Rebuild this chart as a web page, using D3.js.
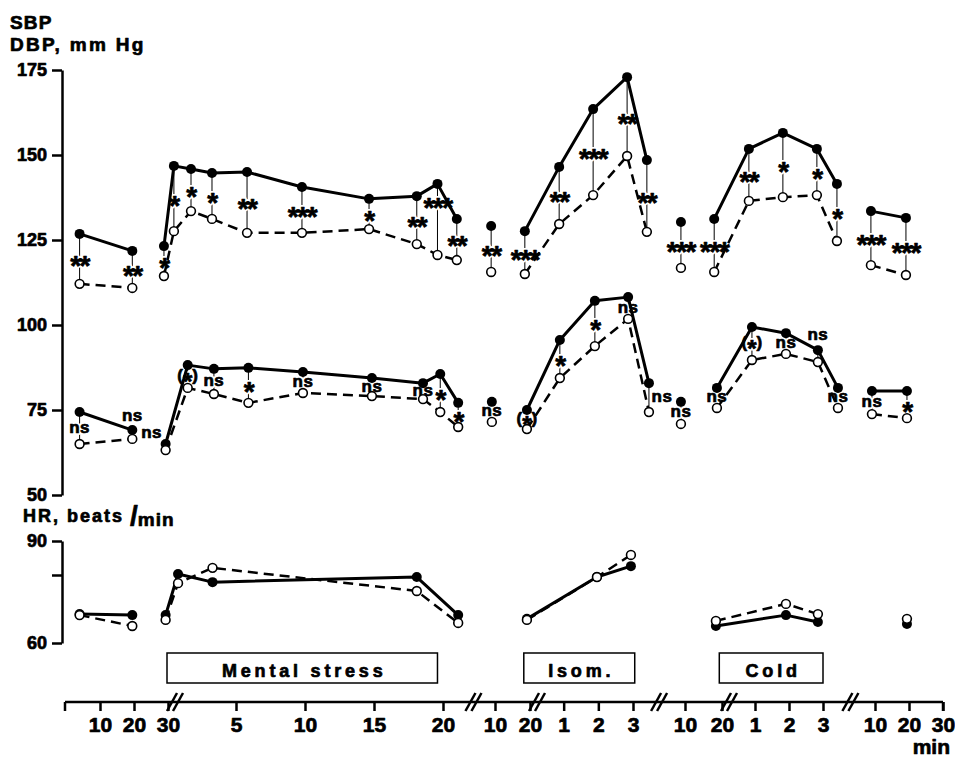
<!DOCTYPE html>
<html>
<head>
<meta charset="utf-8">
<script src="https://cdn.jsdelivr.net/npm/d3@7.9.0/dist/d3.min.js"></script>
<style>
  body { margin: 0; background: #fff; }
  svg { display: block; font-family: "Liberation Sans", Arial, sans-serif; font-weight: bold; }
  svg text { fill: #000; stroke: #000; stroke-width: 0.7px; stroke-linejoin: round; }
  svg text.halo { fill: #fff; stroke: #fff; stroke-width: 4px; }
</style>
</head>
<body>
<svg id="chart" width="955" height="757"></svg>
<script>
// segments of the time axis (each has its own minute scale)
const SEGMENTS = ['rest1', 'stress', 'rest2', 'isom', 'rest3', 'cold', 'rest4'];
const xTicks = [[10, 20, 30], [5, 10, 15, 20], [10, 20], [1, 2, 3], [10, 20], [1, 2, 3], [10, 20, 30]];
const bpTicks = [50, 75, 100, 125, 150, 175];
const hrTicks = [60, 80, 90];
const boxLabels = ['Mental stress', 'Isom.', 'Cold'];

// SBP: minutes, filled (solid) group, open (dashed) group, significance
const sbpTimes = [[4, 19.5], [-0.22, 0.5, 1.74, 3.26, 5.8, 9.78, 14.64, 18.1, 19.6, 21], [8.9], [-0.12, 0.87, 1.85, 2.83, 3.4], [8.9], [-0.2, 0.82, 1.82, 2.82, 3.41], [8.8, 19.1]];
const sbpFilled = [[126.8, 121.8], [123.2, 146.8, 145.9, 144.7, 145.0, 140.6, 137.1, 137.9, 141.5, 131.2], [129.1], [127.6, 146.5, 163.5, 172.9, 148.5], [130.3], [131.2, 151.8, 156.5, 151.8, 141.5], [133.5, 131.5]];
const sbpOpen = [[112.1, 110.9], [114.4, 127.6, 133.5, 131.2, 127.1, 127.1, 128.2, 123.8, 120.6, 119.1], [115.6], [115, 129.7, 138.2, 149.7, 127.4], [116.8], [115.6, 136.5, 137.6, 138.2, 124.7], [117.6, 114.7]];
const sbpSig = [['**', '**'], ['*', '*', '*', '*', '**', '***', '*', '**', '***', '**'], ['**'], ['***', '**', '***', '**', '**'], ['***'], ['***', '**', '*', '*', '*'], ['***', '***']];

// DBP
const dbpTimes = [[4, 19.5], [-0.1, 1.5, 3.4, 5.9, 9.85, 14.85, 18.55, 19.8, 21.1], [9.1], [-0.06, 0.89, 1.9, 2.86, 3.46], [8.9], [-0.12, 0.91, 1.91, 2.85, 3.44], [9.1, 19.4]];
const dbpFilled = [[74.4, 69.1], [65, 88.2, 87.1, 87.4, 86.2, 84.4, 82.9, 85.6, 77.1], [77.4], [75, 95.6, 107.1, 108.2, 82.9], [77.4], [81.5, 99.4, 97.6, 92.6, 81.5], [80.6, 80.6]];
const dbpOpen = [[65, 66.5], [63.2, 81.5, 79.7, 77.1, 80, 79.1, 78.2, 74.4, 70], [71.5], [69.4, 84.4, 93.8, 101.8, 74.4], [70.9], [75.6, 89.7, 91.5, 89.1, 75.6], [73.8, 72.6]];
const dbpSig = [['ns', 'ns'], ['ns', '(*)', 'ns', '*', 'ns', 'ns', 'ns', '*', '*'], ['ns'], ['(*)', '*', '*', 'ns', 'ns'], ['ns'], ['ns', '(*)', 'ns', 'ns', 'ns'], ['ns', '*']];

// HR, beats/min
const hrTimes = [[4, 19.5], [-0.1, 0.8, 3.3, 18.1, 21.1], [], [-0.06, 1.96, 2.94], [], [-0.15, 1.91, 2.85], [19.4]];
const hrFilled = [[68.5, 68.2], [68.2, 80.3, 77.9, 79.4, 68.2], [], [67.1, 79.4, 82.6], [], [65, 68.2, 66.2], [65.6]];
const hrOpen = [[68.2, 65], [66.8, 77.6, 82.1, 75.3, 65.9], [], [66.8, 79.4, 85.9], [], [66.5, 71.5, 68.5], [67.1]];

const svg = d3.select('#chart');

// one linear scale per time segment
const xs = [
  d3.scaleLinear().domain([0, 30]).range([66, 168]),
  d3.scaleLinear().domain([0, 20]).range([167, 443]),
  d3.scaleLinear().domain([10, 20]).range([495, 530]),
  d3.scaleLinear().domain([0, 3]).range([529, 633]),
  d3.scaleLinear().domain([10, 20]).range([685, 722]),
  d3.scaleLinear().domain([0, 3]).range([721, 823]),
  d3.scaleLinear().domain([10, 30]).range([875, 943])
];
const yBP = d3.scaleLinear().domain([50, 175]).range([495, 70]);
const yHR = d3.scaleLinear().domain([60, 90]).range([643, 541]);

// ---- y axes
function styleAxis(g, size) {
  g.select('.domain').attr('stroke', '#000').attr('stroke-width', 2.5);
  g.selectAll('.tick line').attr('stroke', '#000').attr('stroke-width', 2.5);
  g.selectAll('.tick text').style('font-size', size + 'px')
    .style('font-family', '"Liberation Sans", Arial, sans-serif');
}
svg.append('g').attr('transform', 'translate(62,0)')
  .call(d3.axisLeft(yBP).tickValues(bpTicks).tickSize(10).tickSizeOuter(0).tickPadding(5))
  .call(g => styleAxis(g, 18));
svg.append('g').attr('transform', 'translate(62,0)')
  .call(d3.axisLeft(yHR).tickValues(hrTicks).tickSize(10).tickSizeOuter(0).tickPadding(5)
    .tickFormat(d => d === 80 ? '' : d))
  .call(g => styleAxis(g, 18));

svg.append('text').attr('x', 10).attr('y', 29).style('font-size', '19px')
  .style('letter-spacing', '1.2px').text('SBP');
svg.append('text').attr('x', 10).attr('y', 51).style('font-size', '19px')
  .style('letter-spacing', '2.3px').text('DBP, mm Hg');
// HR label: "/min" kept as its own text, a little apart
svg.append('text').attr('x', 23).attr('y', 522).style('font-size', '18px')
  .style('letter-spacing', '2px').text('HR, beats');
const hrUnit = svg.append('text').attr('x', 130).attr('y', 525).style('font-size', '19px');
hrUnit.append('tspan').style('font-size', '28px').text('/');
hrUnit.append('tspan').attr('dy', 1).style('letter-spacing', '1px').text('min');

// ---- x axis
const axisY = 702;
svg.append('line').attr('x1', 65).attr('x2', 943).attr('y1', axisY).attr('y2', axisY)
  .attr('stroke', '#000').attr('stroke-width', 2.5);
[65, 943].forEach(x => svg.append('line').attr('x1', x).attr('x2', x)
  .attr('y1', axisY).attr('y2', axisY + 9).attr('stroke', '#000').attr('stroke-width', 2.5));
SEGMENTS.forEach((s, i) => {
  svg.append('g').attr('transform', `translate(0,${axisY})`)
    .call(d3.axisBottom(xs[i]).tickValues(xTicks[i]).tickFormat(d3.format('d'))
      .tickSize(9).tickPadding(6))
    .call(g => { g.select('.domain').remove(); styleAxis(g, 21); });
});
// axis breaks //
const breakAt = [[0, 30], [1, 21.7], [2, 20], [3, 3.55], [4, 20], [5, 3.6]];
breakAt.forEach(([i, t]) => {
  const bx = xs[i](t) - 1;
  [0, 6].forEach(o => svg.append('line')
    .attr('x1', bx + o).attr('y1', axisY + 9).attr('x2', bx + o + 10).attr('y2', axisY - 9)
    .attr('stroke', '#000').attr('stroke-width', 2.5));
});
svg.append('text').attr('x', 950).attr('y', 754).attr('text-anchor', 'end')
  .style('font-size', '21px').text('min');

// ---- stimulus boxes
const boxSpan = [[1, 0, 19.6], [3, -0.15, 3.05], [5, -0.05, 3]];
boxSpan.forEach(([i, t0, t1], k) => {
  const x0 = xs[i](t0), x1 = xs[i](t1);
  svg.append('rect').attr('x', x0).attr('y', 653).attr('width', x1 - x0).attr('height', 30)
    .attr('fill', '#fff').attr('stroke', '#000').attr('stroke-width', 1.5);
  svg.append('text').attr('x', (x0 + x1) / 2 + 2).attr('y', 677).attr('text-anchor', 'middle')
    .style('font-size', '18px').style('letter-spacing', '3.8px').text(boxLabels[k]);
});

// ---- significance labels (white halo copy first, then the text)
function addLabel(x, y, s) {
  ['halo', 'lab'].forEach(cls => {
    const t = svg.append('text').attr('class', cls).attr('x', x).attr('text-anchor', 'middle');
    if (s === 'ns') {
      t.attr('y', y + 4.5).style('font-size', '17px').style('letter-spacing', '0.5px').text(s);
    } else if (s.startsWith('(')) {
      t.attr('y', y + 4.5).style('font-size', '17px');
      t.append('tspan').text('(');
      t.append('tspan').attr('dy', 9).style('font-size', '24px').text('*');
      t.append('tspan').attr('dy', -9).text(')');
    } else {
      t.attr('y', y + 16).style('font-size', '28px').style('letter-spacing', '-1.5px').text(s);
    }
  });
}

function drawGroup(y, times, A, B, sig, nudge) {
  const line = d3.line().x(d => d[0]).y(d => d[1]);
  SEGMENTS.forEach((s, i) => {
    const pa = times[i].map((t, j) => [xs[i](t), y(A[i][j])]);
    const pb = times[i].map((t, j) => [xs[i](t), y(B[i][j])]);
    if (sig) {
      pa.forEach((p, j) => {
        svg.append('line').attr('x1', p[0]).attr('x2', p[0]).attr('y1', p[1]).attr('y2', pb[j][1])
          .attr('stroke', '#000').attr('stroke-width', 1);
        const n = (nudge && nudge[i + '-' + j]) || [0, 0];
        addLabel(p[0] + n[0], (p[1] + pb[j][1]) / 2 + n[1], sig[i][j]);
      });
    }
    if (pb.length > 1) svg.append('path').attr('d', line(pb)).attr('fill', 'none')
      .attr('stroke', '#000').attr('stroke-width', 2.5).attr('stroke-dasharray', '10,6');
    if (pa.length > 1) svg.append('path').attr('d', line(pa)).attr('fill', 'none')
      .attr('stroke', '#000').attr('stroke-width', 3).attr('stroke-linejoin', 'round');
    pa.forEach(p => svg.append('circle').attr('cx', p[0]).attr('cy', p[1]).attr('r', 5)
      .attr('fill', '#000'));
    pb.forEach(p => svg.append('circle').attr('cx', p[0]).attr('cy', p[1]).attr('r', 4.4)
      .attr('fill', '#fff').attr('stroke', '#000').attr('stroke-width', 1.6));
  });
}

drawGroup(yBP, sbpTimes, sbpFilled, sbpOpen, sbpSig, { '1-8': [0, -18] });
drawGroup(yBP, dbpTimes, dbpFilled, dbpOpen, dbpSig,
  { '0-1': [0, -18], '1-0': [-14, -14], '3-4': [13, 0], '5-3': [0, -21] });
drawGroup(yHR, hrTimes, hrFilled, hrOpen, null, null);
</script>
</body>
</html>
